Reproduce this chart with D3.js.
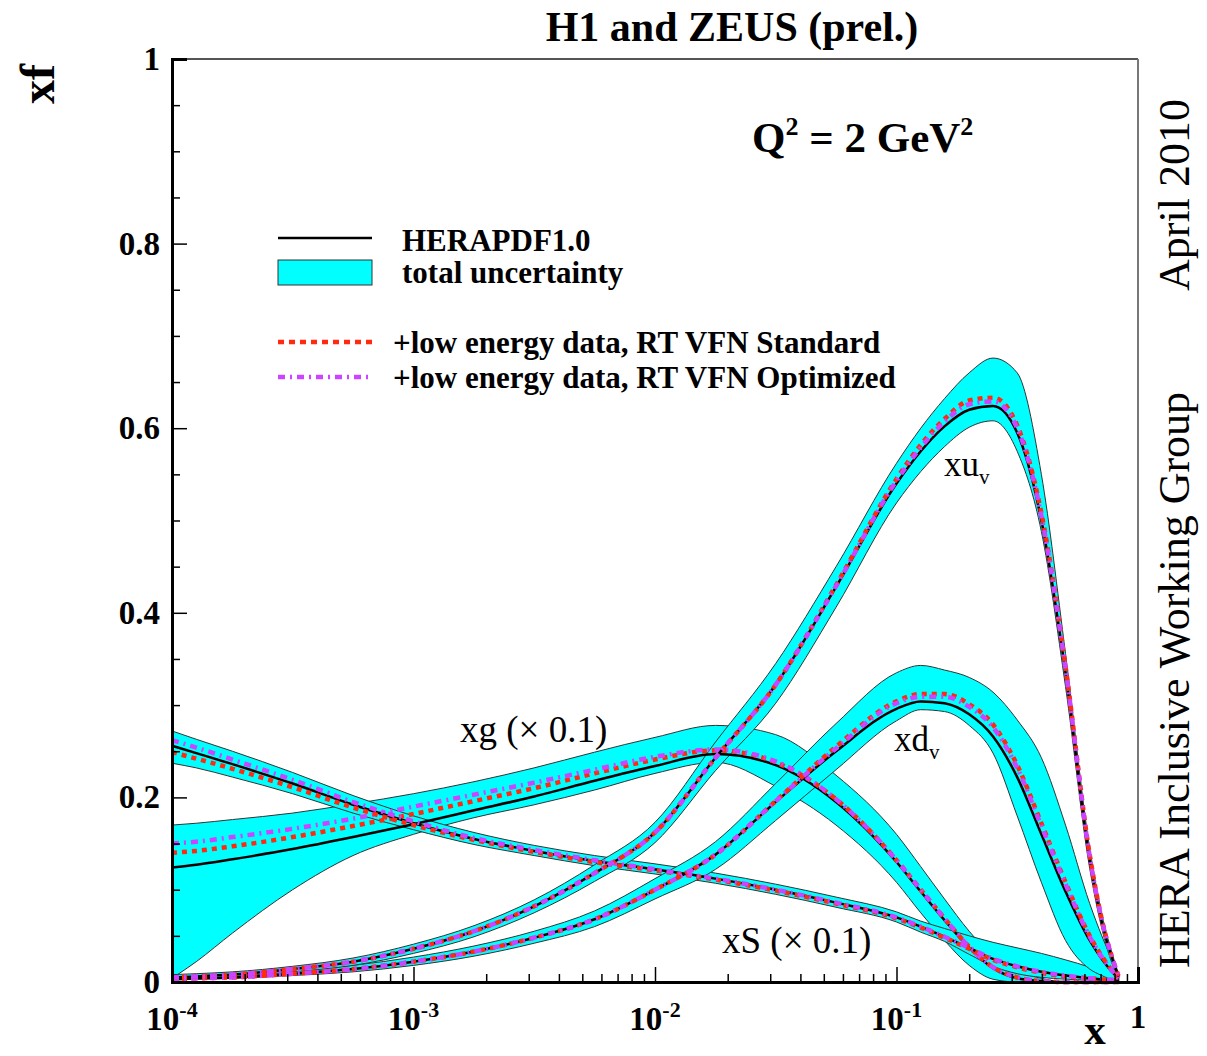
<!DOCTYPE html>
<html>
<head>
<meta charset="utf-8">
<title>H1 and ZEUS (prel.)</title>
<script src="https://d3js.org/d3.v7.min.js"></script>
<style>
  body { margin: 0; background: #fff; }
  text { font-family: "Liberation Serif", "Times New Roman", serif; fill: #000; }
</style>
</head>
<body>
<div id="chart"></div>
<script>
// x grid (shared by all curves)
var xGrid = [1e-4, 1.26e-4, 1.78e-4, 3.16e-4, 5.62e-4, 1e-3, 1.78e-3, 3.16e-3, 5.62e-3, 0.01,
             0.0178, 0.0316, 0.0562, 0.1, 0.126, 0.158, 0.2, 0.251, 0.316, 0.398,
             0.501, 0.631, 0.708, 0.794, 0.832];

// xu_v
var uvCentral = [0.005,0.006,0.008,0.014,0.022,0.036,0.055,0.082,0.118,0.162,0.243,0.322,0.428,0.54,0.575,0.602,0.62,0.624,0.595,0.5,0.335,0.132,0.065,0.02,0.006];
var uvLower   = [0.003,0.004,0.006,0.011,0.018,0.031,0.049,0.075,0.109,0.151,0.229,0.302,0.406,0.519,0.553,0.58,0.601,0.608,0.575,0.488,0.32,0.123,0.058,0.015,0.003];
var uvUpper   = [0.008,0.009,0.011,0.017,0.026,0.041,0.061,0.089,0.127,0.173,0.26,0.345,0.45,0.562,0.6,0.632,0.66,0.676,0.66,0.55,0.356,0.145,0.074,0.025,0.008];
var uvStd     = [0.005,0.006,0.008,0.014,0.022,0.036,0.055,0.082,0.118,0.162,0.243,0.322,0.43,0.545,0.582,0.61,0.63,0.633,0.603,0.508,0.342,0.138,0.068,0.021,0.006];
var uvOpt     = [0.005,0.006,0.008,0.014,0.022,0.036,0.055,0.082,0.118,0.162,0.243,0.322,0.429,0.543,0.579,0.607,0.626,0.629,0.6,0.505,0.34,0.136,0.067,0.021,0.006];

// xd_v
var dvCentral = [0.003,0.004,0.005,0.009,0.014,0.022,0.033,0.048,0.068,0.1,0.138,0.195,0.25,0.296,0.304,0.302,0.29,0.266,0.222,0.16,0.098,0.045,0.025,0.009,0.004];
var dvLower   = [0.002,0.003,0.004,0.007,0.011,0.018,0.028,0.042,0.06,0.09,0.122,0.175,0.23,0.283,0.295,0.293,0.278,0.248,0.18,0.108,0.045,0.014,0.007,0.002,0.001];
var dvUpper   = [0.005,0.006,0.007,0.012,0.018,0.027,0.039,0.055,0.077,0.112,0.152,0.215,0.28,0.335,0.343,0.338,0.33,0.314,0.284,0.243,0.17,0.085,0.05,0.02,0.008];
var dvStd     = [0.003,0.004,0.005,0.009,0.014,0.022,0.033,0.048,0.068,0.1,0.138,0.196,0.255,0.304,0.312,0.312,0.301,0.279,0.235,0.172,0.108,0.05,0.028,0.01,0.004];
var dvOpt     = [0.003,0.004,0.005,0.009,0.014,0.022,0.033,0.048,0.068,0.1,0.138,0.196,0.253,0.302,0.309,0.309,0.298,0.276,0.232,0.169,0.106,0.049,0.027,0.01,0.004];

// xg (x 0.1)
var gCentral = [0.124,0.127,0.133,0.144,0.157,0.171,0.186,0.201,0.218,0.234,0.247,0.235,0.195,0.13,0.098,0.067,0.037,0.015,0.004,0.001,0,0,0,0,0];
var gLower   = [0.004,0.022,0.053,0.1,0.137,0.16,0.178,0.192,0.208,0.226,0.238,0.212,0.17,0.108,0.075,0.045,0.018,0.003,0,0,0,0,0,0,0];
var gUpper   = [0.17,0.172,0.176,0.183,0.193,0.204,0.217,0.232,0.249,0.265,0.278,0.268,0.224,0.16,0.125,0.09,0.055,0.028,0.012,0.004,0,0,0,0,0];
var gStd     = [0.14,0.142,0.147,0.157,0.169,0.182,0.196,0.21,0.226,0.241,0.251,0.238,0.198,0.132,0.1,0.069,0.038,0.016,0.005,0.001,0,0,0,0,0];
var gOpt     = [0.15,0.152,0.157,0.166,0.177,0.19,0.203,0.216,0.23,0.244,0.252,0.239,0.198,0.132,0.1,0.069,0.038,0.016,0.005,0.001,0,0,0,0,0];

// xS (x 0.1)
var sCentral = [0.256,0.248,0.236,0.215,0.192,0.172,0.155,0.142,0.131,0.122,0.112,0.1,0.086,0.07,0.06,0.049,0.037,0.025,0.017,0.011,0.007,0.004,0.003,0.002,0.001];
var sLower   = [0.237,0.232,0.222,0.204,0.183,0.165,0.149,0.137,0.126,0.117,0.107,0.095,0.081,0.065,0.054,0.044,0.03,0.017,0.009,0.005,0.003,0.002,0.001,0.001,0];
var sUpper   = [0.272,0.263,0.25,0.227,0.202,0.18,0.162,0.148,0.137,0.128,0.118,0.106,0.092,0.076,0.066,0.058,0.05,0.043,0.037,0.031,0.024,0.016,0.011,0.006,0.003];
var sStd     = [0.249,0.242,0.231,0.211,0.189,0.17,0.154,0.141,0.13,0.121,0.111,0.099,0.085,0.069,0.059,0.048,0.036,0.024,0.016,0.01,0.006,0.004,0.003,0.002,0.001];
var sOpt     = [0.262,0.254,0.241,0.219,0.195,0.174,0.156,0.143,0.132,0.122,0.112,0.1,0.086,0.07,0.06,0.049,0.037,0.025,0.017,0.011,0.007,0.004,0.003,0.002,0.001];

var yTicks = [0, 0.2, 0.4, 0.6, 0.8, 1];
var yTickLabels = ["0", "0.2", "0.4", "0.6", "0.8", "1"];
var xTicks = [1e-4, 1e-3, 1e-2, 1e-1, 1];
var xTickExp = ["-4", "-3", "-2", "-1", ""];

var legendItems = ["HERAPDF1.0", "total uncertainty", "+low energy data, RT VFN Standard", "+low energy data, RT VFN Optimized"];

var W = 1207, H = 1056;
var margin = {top: 59, right: 69, bottom: 74, left: 172};
var x0 = margin.left, x1 = W - margin.right, yTop = margin.top, yBot = H - margin.bottom;

var svg = d3.select("#chart").append("svg")
    .attr("width", W).attr("height", H);
svg.append("rect").attr("width", W).attr("height", H).attr("fill", "#fff");

var x = d3.scaleLog().domain([1e-4, 1]).range([x0, x1]);
var y = d3.scaleLinear().domain([0, 1]).range([yBot, yTop]);

var RED = "#ff2a10", MAG = "#cc44ff", CYAN = "#00ffff";

// curves
var pdfs = [
  {c: gCentral, lo: gLower, hi: gUpper, s: gStd, o: gOpt},
  {c: sCentral, lo: sLower, hi: sUpper, s: sStd, o: sOpt},
  {c: dvCentral, lo: dvLower, hi: dvUpper, s: dvStd, o: dvOpt},
  {c: uvCentral, lo: uvLower, hi: uvUpper, s: uvStd, o: uvOpt}
];

var plot = svg.append("g");
var area = d3.area()
    .x(function(d) { return x(d.x); })
    .y0(function(d) { return y(d.lo); })
    .y1(function(d) { return y(d.hi); })
    .curve(d3.curveMonotoneX);
var line = d3.line()
    .x(function(d) { return x(d.x); })
    .y(function(d) { return y(d.v); })
    .curve(d3.curveMonotoneX);

function pts(arr) { return xGrid.map(function(xv, i) { return {x: xv, v: arr[i]}; }); }

pdfs.forEach(function(p) {
  var band = xGrid.map(function(xv, i) { return {x: xv, lo: p.lo[i], hi: p.hi[i]}; });
  plot.append("path").datum(band).attr("d", area)
    .attr("fill", CYAN).attr("stroke", "#333").attr("stroke-width", 1);
});
pdfs.forEach(function(p) {
  plot.append("path").datum(pts(p.c)).attr("d", line)
    .attr("fill", "none").attr("stroke", "#000").attr("stroke-width", 2.5);
  plot.append("path").datum(pts(p.s)).attr("d", line)
    .attr("fill", "none").attr("stroke", RED).attr("stroke-width", 4.5)
    .attr("stroke-dasharray", "5,5");
  plot.append("path").datum(pts(p.o)).attr("d", line)
    .attr("fill", "none").attr("stroke", MAG).attr("stroke-width", 4.5)
    .attr("stroke-dasharray", "7,5,2,5");
});

// frame
svg.append("line").attr("x1", x0).attr("x2", x1).attr("y1", yTop).attr("y2", yTop)
  .attr("stroke", "#555").attr("stroke-width", 2);
svg.append("line").attr("x1", x1).attr("x2", x1).attr("y1", yTop).attr("y2", yBot)
  .attr("stroke", "#777").attr("stroke-width", 2);

// y axis (ticks inward)
var yMinor = d3.range(0, 1.0001, 0.05).filter(function(v) { return Math.abs(v * 5 - Math.round(v * 5)) > 1e-6; });
var gyMinor = svg.append("g").attr("transform", "translate(" + x0 + ",0)")
  .call(d3.axisLeft(y).tickValues(yMinor).tickSize(-8).tickFormat(""));
var gy = svg.append("g").attr("transform", "translate(" + x0 + ",0)")
  .call(d3.axisLeft(y).tickValues(yTicks).tickSize(-15).tickPadding(12)
    .tickFormat(function(d, i) { return yTickLabels[i]; }));
gy.selectAll("text").style("font-size", "33px").style("font-weight", "bold")
  .attr("font-family", "Liberation Serif");

// x axis (ticks inward)
var xMinor = [];
for (var e = -4; e < 0; e++) {
  for (var m = 2; m <= 9; m++) xMinor.push(m * Math.pow(10, e));
}
var gxMinor = svg.append("g").attr("transform", "translate(0," + yBot + ")")
  .call(d3.axisBottom(x).tickValues(xMinor).tickSize(-8).tickFormat(""));
var gx = svg.append("g").attr("transform", "translate(0," + yBot + ")")
  .call(d3.axisBottom(x).tickValues(xTicks).tickSize(-15).tickFormat(""));

[gyMinor, gy, gxMinor, gx].forEach(function(g) {
  g.selectAll(".tick line").attr("stroke", "#000").attr("stroke-width", 1.5);
  g.select(".domain").attr("stroke", "#000").attr("stroke-width", 3);
});

xTicks.forEach(function(t, i) {
  var tx = svg.append("text").attr("x", x(t)).attr("y", yBot + 48)
    .attr("text-anchor", "middle").style("font-size", "33px").style("font-weight", "bold");
  if (xTickExp[i] === "") {
    tx.text("1").attr("y", yBot + 46);
  } else {
    tx.append("tspan").text("10");
    tx.append("tspan").attr("dy", -13).style("font-size", "22px").text(xTickExp[i]);
  }
});

// axis titles
svg.append("text").attr("transform", "translate(54,84) rotate(-90)")
  .attr("text-anchor", "middle").style("font-size", "48px").style("font-weight", "bold").text("xf");
svg.append("text").attr("x", 1095).attr("y", 1044)
  .attr("text-anchor", "middle").style("font-size", "43px").style("font-weight", "bold").text("x");

// title
svg.append("text").attr("x", 732).attr("y", 41).attr("text-anchor", "middle")
  .style("font-size", "42px").style("font-weight", "bold").text("H1 and ZEUS (prel.)");

// Q2 label
var q = svg.append("text").attr("x", 752).attr("y", 152)
  .style("font-size", "43px").style("font-weight", "bold");
q.append("tspan").text("Q");
q.append("tspan").attr("dy", -17).style("font-size", "26px").text("2");
q.append("tspan").attr("dy", 17).text(" = 2 GeV");
q.append("tspan").attr("dy", -17).style("font-size", "26px").text("2");

// right side texts
svg.append("text").attr("transform", "translate(1189,195) rotate(-90)")
  .attr("text-anchor", "middle").style("font-size", "44px").text("April 2010");
svg.append("text").attr("transform", "translate(1189,680) rotate(-90)")
  .attr("text-anchor", "middle").style("font-size", "44px").text("HERA Inclusive Working Group");

// curve labels
svg.append("text").attr("x", 460).attr("y", 742).style("font-size", "37px").text("xg (\u00d7 0.1)");
svg.append("text").attr("x", 722).attr("y", 953).style("font-size", "37px").text("xS (\u00d7 0.1)");
var lu = svg.append("text").attr("x", 944).attr("y", 476).style("font-size", "35px");
lu.append("tspan").text("xu");
lu.append("tspan").attr("dy", 8).style("font-size", "21px").text("v");
var ld = svg.append("text").attr("x", 894).attr("y", 751).style("font-size", "35px");
ld.append("tspan").text("xd");
ld.append("tspan").attr("dy", 8).style("font-size", "21px").text("v");

// legend
var lg = svg.append("g");
lg.append("line").attr("x1", 278).attr("x2", 372).attr("y1", 238).attr("y2", 238)
  .attr("stroke", "#000").attr("stroke-width", 2.5);
lg.append("rect").attr("x", 278).attr("y", 260).attr("width", 94).attr("height", 25)
  .attr("fill", CYAN).attr("stroke", "#333").attr("stroke-width", 1);
lg.append("line").attr("x1", 278).attr("x2", 372).attr("y1", 342).attr("y2", 342)
  .attr("stroke", RED).attr("stroke-width", 4.5).attr("stroke-dasharray", "6,5");
lg.append("line").attr("x1", 278).attr("x2", 372).attr("y1", 377).attr("y2", 377)
  .attr("stroke", MAG).attr("stroke-width", 4.5).attr("stroke-dasharray", "7,5,2,5");
var lx = [402, 402, 393, 393], ly = [251, 283, 353, 388];
legendItems.forEach(function(t, i) {
  lg.append("text").attr("x", lx[i]).attr("y", ly[i])
    .style("font-size", "31px").style("font-weight", "bold").text(t);
});
</script>
</body>
</html>
